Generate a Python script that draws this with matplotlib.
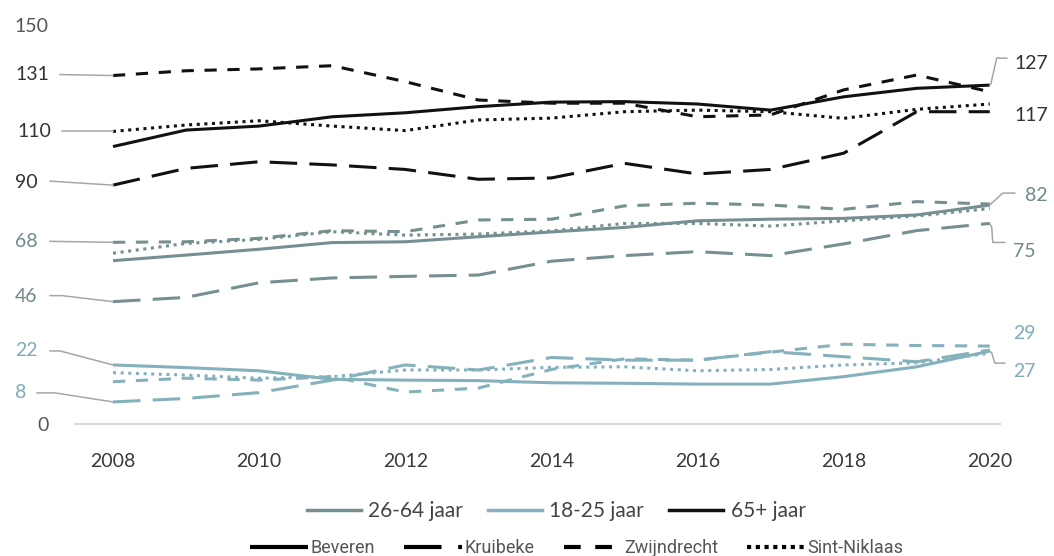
import matplotlib
matplotlib.use('Agg')
import matplotlib.pyplot as plt
from matplotlib.lines import Line2D
from matplotlib.transforms import IdentityTransform

plt.rcParams['font.family'] = ['Lato', 'DejaVu Sans']

years = list(range(2008, 2021))
x_ticks = [2008, 2010, 2012, 2014, 2016, 2018, 2020]
y_ticks = [0, 150]

municipalities = ['Beveren', 'Kruibeke', 'Zwijndrecht', 'Sint-Niklaas']
age_groups = ['26-64 jaar', '18-25 jaar', '65+ jaar']

# 65+ jaar
beveren_65 = [104.3, 110.5, 112.0, 115.5, 117.0, 119.3, 121.0, 121.2, 120.3, 118.0, 123.0, 126.2, 127.4]
kruibeke_65 = [89.8, 96.1, 98.6, 97.4, 95.7, 92.0, 92.5, 98.0, 94.0, 95.7, 101.8, 117.4, 117.4]
zwijndrecht_65 = [131.0, 132.8, 133.5, 134.7, 128.7, 121.8, 120.6, 120.6, 115.5, 116.2, 125.6, 131.2, 124.9]
sintniklaas_65 = [110.0, 112.4, 114.0, 112.0, 110.3, 114.3, 115.0, 117.4, 118.0, 117.4, 114.9, 118.3, 120.3]

# 26-64 jaar
beveren_2664 = [61.4, 63.5, 65.7, 68.2, 68.5, 70.4, 72.2, 73.9, 76.4, 77.0, 77.3, 78.6, 82.3]
kruibeke_2664 = [46.0, 47.6, 53.1, 54.9, 55.5, 56.0, 61.2, 63.3, 64.8, 63.3, 67.7, 72.7, 75.4]
zwijndrecht_2664 = [68.3, 68.5, 69.8, 72.7, 72.3, 76.7, 77.0, 82.0, 83.0, 82.3, 80.7, 83.6, 82.7]
sintniklaas_2664 = [64.2, 67.9, 69.4, 72.3, 71.0, 71.4, 72.6, 75.4, 75.4, 74.4, 76.4, 78.2, 81.0]

# 18-25 jaar
beveren_1825 = [22.2, 21.2, 20.0, 16.8, 16.5, 16.3, 15.5, 15.3, 15.0, 15.0, 17.8, 21.5, 27.4]
kruibeke_1825 = [8.3, 9.6, 11.8, 16.5, 22.2, 20.3, 25.0, 24.0, 24.0, 27.2, 25.3, 23.4, 27.8]
zwijndrecht_1825 = [15.9, 17.2, 16.5, 17.8, 12.0, 13.5, 20.5, 24.5, 24.0, 27.0, 30.0, 29.5, 29.3]
sintniklaas_1825 = [19.3, 18.4, 17.2, 17.8, 20.3, 20.3, 21.3, 21.5, 20.0, 20.5, 22.2, 23.0, 26.6]

series = {
    ('26-64 jaar', 'Beveren'): beveren_2664,
    ('26-64 jaar', 'Kruibeke'): kruibeke_2664,
    ('26-64 jaar', 'Zwijndrecht'): zwijndrecht_2664,
    ('26-64 jaar', 'Sint-Niklaas'): sintniklaas_2664,
    ('18-25 jaar', 'Beveren'): beveren_1825,
    ('18-25 jaar', 'Kruibeke'): kruibeke_1825,
    ('18-25 jaar', 'Zwijndrecht'): zwijndrecht_1825,
    ('18-25 jaar', 'Sint-Niklaas'): sintniklaas_1825,
    ('65+ jaar', 'Beveren'): beveren_65,
    ('65+ jaar', 'Kruibeke'): kruibeke_65,
    ('65+ jaar', 'Zwijndrecht'): zwijndrecht_65,
    ('65+ jaar', 'Sint-Niklaas'): sintniklaas_65,
}

colors = {'26-64 jaar': '#768f90', '18-25 jaar': '#85b1bc', '65+ jaar': '#111111'}
label_colors = {'26-64 jaar': '#6f8889', '18-25 jaar': '#7eacb8', '65+ jaar': '#333333'}
dashes = {'Beveren': None, 'Kruibeke': (9, 4), 'Zwijndrecht': (4, 3.5), 'Sint-Niklaas': (1, 1.5)}
legend_dashes = {'Beveren': None, 'Kruibeke': (9, 4), 'Zwijndrecht': (4, 3.5), 'Sint-Niklaas': (1, 1.1)}

# start labels (left): series, text offset in px, leader vertices in px (relative to point)
start_labels = [
    (('65+ jaar', 'Zwijndrecht'), (-98, 1), [(-53, 1)]),
    (('65+ jaar', 'Sint-Niklaas'), (-96, 0), [(-51, 0)]),
    (('65+ jaar', 'Kruibeke'), (-98, 3), [(-63, 4)]),
    (('26-64 jaar', 'Zwijndrecht'), (-98, 1), [(-63, 1)]),
    (('26-64 jaar', 'Kruibeke'), (-98, 5), [(-63, 6), (-51, 6)]),
    (('18-25 jaar', 'Beveren'), (-98, 14), [(-63, 14), (-53, 14)]),
    (('18-25 jaar', 'Kruibeke'), (-98, 9), [(-76, 9), (-58, 9)]),
]
# end labels (right)
end_labels = [
    (('65+ jaar', 'Beveren'), (25, 22), [(17, 27), (7, 27), (1, 1)]),
    (('65+ jaar', 'Kruibeke'), (25, -4), []),
    (('26-64 jaar', 'Beveren'), (35, 10), [(25, 12), (13, 12), (1, 1)]),
    (('26-64 jaar', 'Kruibeke'), (23, -28), [(15, -19), (3, -19), (2, -4)]),
    (('18-25 jaar', 'Zwijndrecht'), (23, 13), []),
    (('18-25 jaar', 'Beveren'), (23, -20), [(15, -12), (5, -12), (2, -2)]),
]

fig = plt.figure(figsize=(10.54, 5.56), dpi=100)
ax = fig.add_axes([75 / 1054, 1 - 424 / 556, 925 / 1054, 399 / 556])
ax.set_xlim(2007.48, 2020.14)
ax.set_ylim(0, 150)

for group in age_groups:
    for muni in municipalities:
        line, = ax.plot(years, series[(group, muni)], color=colors[group], lw=2.2,
                        solid_capstyle='butt', dash_capstyle='butt', clip_on=False)
        if dashes[muni] is not None:
            line.set_dashes(dashes[muni])

for spine in ['top', 'right', 'left']:
    ax.spines[spine].set_visible(False)
ax.spines['bottom'].set_color('#d9d9d9')
ax.spines['bottom'].set_linewidth(1.5)

ax.set_xticks(x_ticks)
ax.set_yticks(y_ticks)
ax.tick_params(axis='x', length=0, pad=21, labelsize=14, labelcolor='#3a3a3a')
ax.tick_params(axis='y', length=0, pad=19, labelsize=14, labelcolor='#555555')

fig.canvas.draw()


def leader(x, y, verts):
    px, py = ax.transData.transform((x, y))
    xs = [px + dx for dx, dy in verts] + [px]
    ys = [py + dy for dx, dy in verts] + [py]
    ax.add_line(Line2D(xs, ys, transform=IdentityTransform(), color='#a6a6a6',
                       lw=1.1, clip_on=False))


for key, (tdx, tdy), verts in start_labels:
    x, y = years[0], series[key][0]
    ax.annotate(f'{y:.0f}', xy=(x, y), xytext=(tdx, tdy), textcoords='offset pixels',
                ha='left', va='center', fontsize=14, color=label_colors[key[0]],
                annotation_clip=False)
    leader(x, y, verts)

for key, (tdx, tdy), verts in end_labels:
    x, y = years[-1], series[key][-1]
    ax.annotate(f'{y:.0f}', xy=(x, y), xytext=(tdx, tdy), textcoords='offset pixels',
                ha='left', va='center', fontsize=14, color=label_colors[key[0]],
                annotation_clip=False)
    if verts:
        leader(x, y, verts)

# legends
age_handles = [Line2D([], [], color=colors[g], lw=2.5) for g in age_groups]
fig.legend(age_handles, age_groups, loc='center', bbox_to_anchor=(556 / 1054, 1 - 511 / 556),
           ncol=3, frameon=False, fontsize=15, handlelength=2.6, handletextpad=0.35,
           columnspacing=1.2, labelcolor='#444444')

muni_handles = []
for m in municipalities:
    h = Line2D([], [], color='black', lw=3, dash_capstyle='butt', solid_capstyle='butt')
    if legend_dashes[m] is not None:
        h.set_dashes(legend_dashes[m])
    muni_handles.append(h)
fig.legend(muni_handles, municipalities, loc='center', bbox_to_anchor=(577 / 1054, 1 - 548 / 556),
           ncol=4, frameon=False, prop={'family': ['Roboto', 'DejaVu Sans'], 'size': 13},
           handlelength=3.2, handletextpad=0.15, columnspacing=1.6, labelcolor='#555555')

fig.savefig('out.png', dpi=100)
